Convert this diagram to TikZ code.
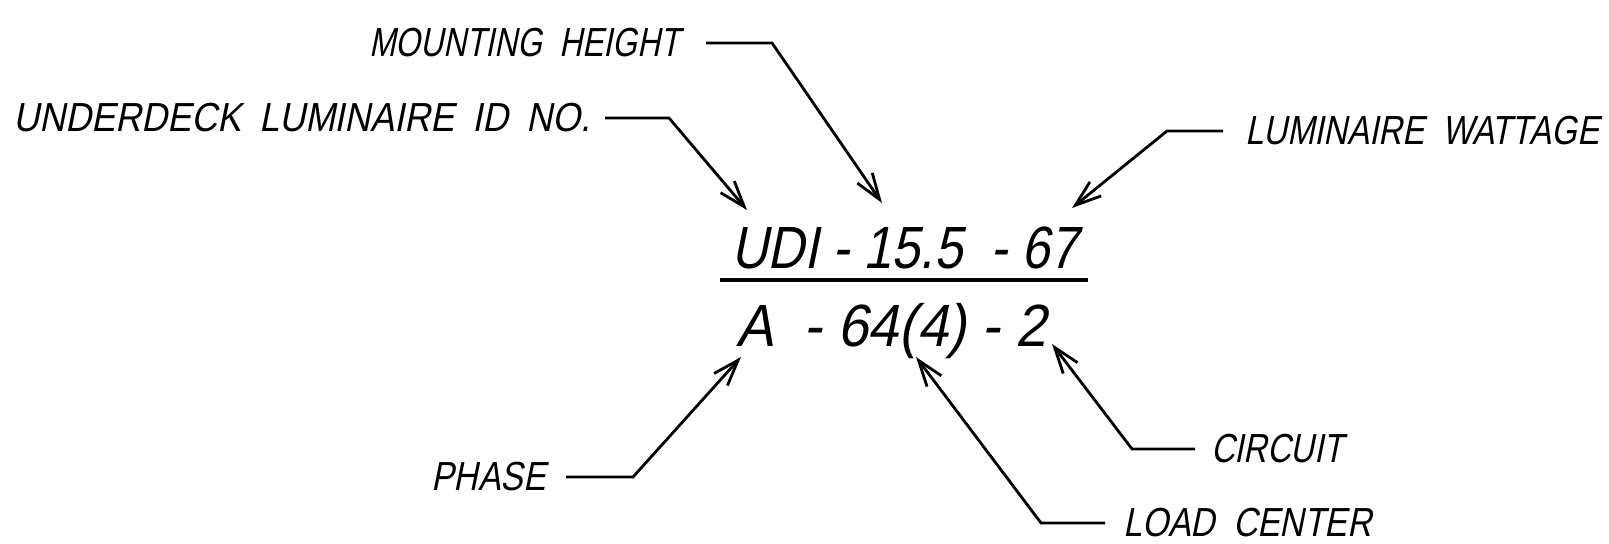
\documentclass[tikz,border=0pt]{standalone}
\usepackage{fontspec}
\usetikzlibrary{arrows.meta}
\newfontfamily\cadA{Liberation Sans}[FakeStretch=0.78, FakeSlant=0.2]
\newfontfamily\cadB{Liberation Sans}[FakeStretch=0.83, FakeSlant=0.2]
\newfontfamily\cadC{Liberation Sans}[FakeStretch=0.885, FakeSlant=0.2]
\newfontfamily\cadD{Liberation Sans}[FakeStretch=0.8, FakeSlant=0.2]
\newfontfamily\cadE{Liberation Sans}[FakeStretch=0.81, FakeSlant=0.2]
\newfontfamily\cadtop{Liberation Sans}[FakeStretch=0.85, FakeSlant=0.2]
\newfontfamily\cadbot{Liberation Sans}[FakeStretch=0.93, FakeSlant=0.2]
\newcommand\lblsize{\fontsize{20.3}{24}\selectfont\spaceskip=9pt\relax}
\begin{document}
\begin{tikzpicture}[x=0.5pt,y=-0.5pt,
  lbl/.style={font=\cadB\lblsize, inner ysep=0pt},
  lbln/.style={font=\cadA\lblsize, inner ysep=0pt},
  lblw/.style={font=\cadC\lblsize, inner ysep=0pt},
  lbls/.style={font=\cadD\lblsize, inner ysep=0pt},
  lble/.style={font=\cadE\lblsize, inner ysep=0pt},
  frmtop/.style={font=\cadtop\fontsize{29.8}{34}\selectfont, inner sep=0pt},
  frmbot/.style={font=\cadbot\fontsize{29.8}{34}\selectfont, inner sep=0pt},
  leader/.style={line width=1.4pt, line join=miter,
    -{Straight Barb[length=13pt,width=9pt,line width=1.4pt]}},
  bar/.style={line width=1.8pt}]
\fill[white] (0,0) rectangle (1609,544);
\useasboundingbox (0,0) rectangle (1609,544);

% formula
\node[frmtop, anchor=base west] (top) at (731,269) {UDI - 15.5\ \ - 67};
\node[frmbot, anchor=base west] (bot) at (736,347) {A\hspace{0.5em}- 64(4) - 2};
\coordinate (barL) at (720,280);
\coordinate (barR) at (1088,280);
\draw[bar] (barL) -- (barR);

% labels
\node[lbln, anchor=east, inner xsep=13pt] (mh) at (706,43) {MOUNTING HEIGHT};
\node[lblw, anchor=east, inner xsep=7pt] (ul) at (605,118) {UNDERDECK LUMINAIRE ID NO.};
\node[lble, anchor=west, inner xsep=11pt] (lw) at (1223,131) {LUMINAIRE WATTAGE};
\node[lbl, anchor=east, inner xsep=10pt] (ph) at (566,477) {PHASE};
\node[lbl, anchor=west, inner xsep=9pt] (lc) at (1105,523) {LOAD CENTER};
\node[lbls, anchor=west, inner xsep=8pt] (ci) at (1195,449) {CIRCUIT};

% elbows and tips
\coordinate (mhE) at (772,43);   \coordinate (mhT) at (882,203);
\coordinate (ulE) at (669,118);  \coordinate (ulT) at (747,210);
\coordinate (lwE) at (1167,131); \coordinate (lwT) at (1072,208);
\coordinate (phE) at (633,477);  \coordinate (phT) at (741,357);
\coordinate (lcE) at (1041,523); \coordinate (lcT) at (916,357);
\coordinate (ciE) at (1132,449); \coordinate (ciT) at (1052,344);

\draw[leader] (mh.east) -- (mhE) -- (mhT);
\draw[leader] (ul.east) -- (ulE) -- (ulT);
\draw[leader] (lw.west) -- (lwE) -- (lwT);
\draw[leader] (ph.east) -- (phE) -- (phT);
\draw[leader] (lc.west) -- (lcE) -- (lcT);
\draw[leader] (ci.west) -- (ciE) -- (ciT);
\end{tikzpicture}
\end{document}
